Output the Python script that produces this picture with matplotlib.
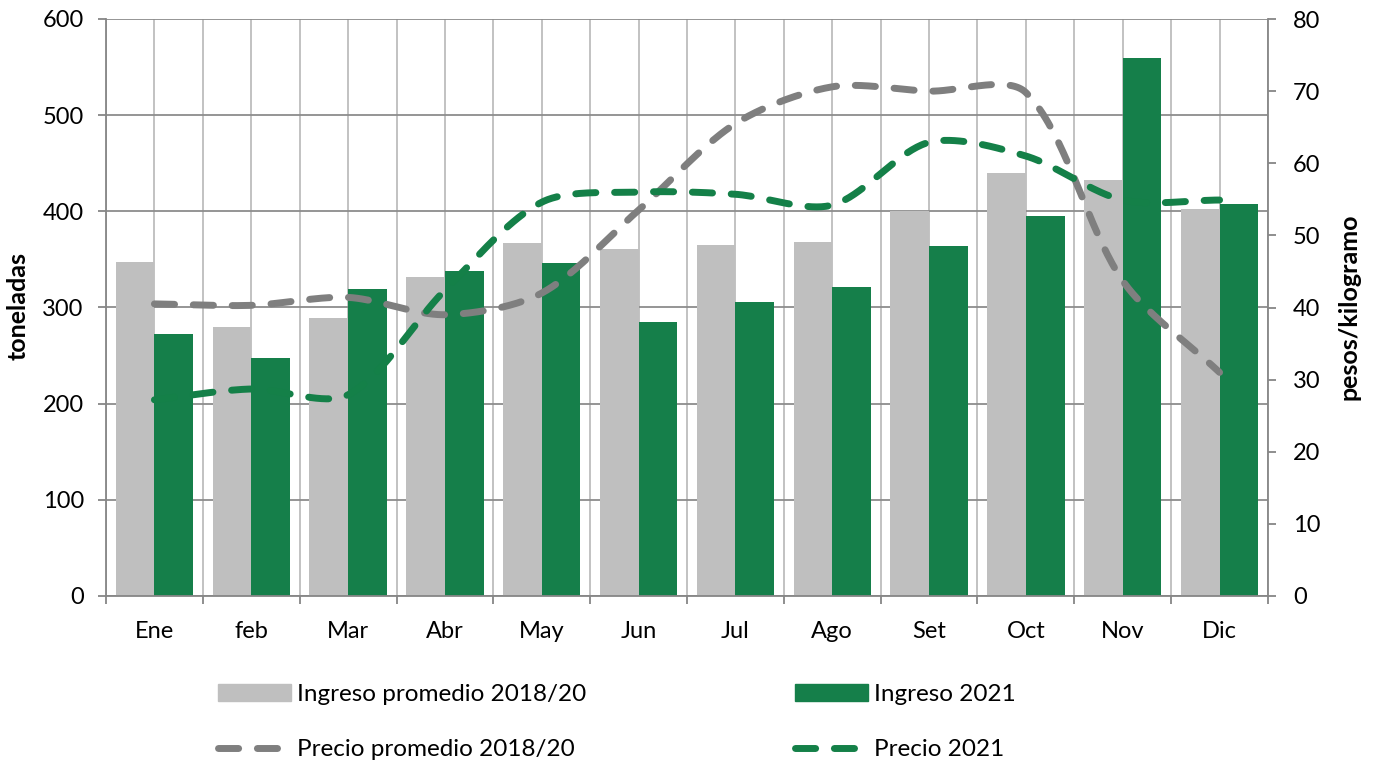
import numpy as np
import matplotlib.pyplot as plt
from matplotlib.patches import Patch
from matplotlib.lines import Line2D

plt.rcParams['font.family'] = ['Lato', 'DejaVu Sans']

meses = ["Ene", "feb", "Mar", "Abr", "May", "Jun", "Jul", "Ago", "Set", "Oct", "Nov", "Dic"]
ingreso_prom = [347, 280, 289, 332, 367, 361, 365, 368, 400, 440, 433, 402]
ingreso_2021 = [272, 248, 319, 338, 346, 285, 306, 321, 364, 395, 559, 408]
precio_prom = [40.5, 40.3, 41.4, 39.0, 42.0, 53.5, 65.5, 70.6, 70.0, 69.8, 43.7, 31.0]
precio_2021 = [27.2, 28.7, 27.9, 42.4, 54.6, 56.0, 55.7, 54.2, 62.9, 61.0, 54.9, 54.9]

GRIS_BAR = "#bfbfbf"
VERDE_BAR = "#157f4a"
GRIS_LIN = "#7f7f7f"
VERDE_LIN = "#148048"
EJE = "#868686"


# Excel-like smoothed line: bezier through the points, control points
# weighted by the length of neighbouring segments (in screen proportions)
def suavizar(x, y, sy=7.21 / 96.8, t=0.3, n=40):
    p = np.column_stack([np.asarray(x, float), np.asarray(y, float) * sy])
    m = len(p)
    d = np.hypot(*np.diff(p, axis=0).T)
    tang = np.zeros_like(p)
    tang[0] = p[1] - p[0]
    tang[-1] = p[-1] - p[-2]
    tang[1:-1] = p[2:] - p[:-2]
    s = np.linspace(0, 1, n)[:, None]
    out = []
    for i in range(m - 1):
        w1 = 1.0 if i == 0 else d[i] / (d[i - 1] + d[i])
        w2 = 1.0 if i == m - 2 else d[i] / (d[i] + d[i + 1])
        c1 = p[i] + t * tang[i] * w1
        c2 = p[i + 1] - t * tang[i + 1] * w2
        out.append((1 - s) ** 3 * p[i] + 3 * (1 - s) ** 2 * s * c1
                   + 3 * (1 - s) * s ** 2 * c2 + s ** 3 * p[i + 1])
    out = np.vstack(out)
    return out[:, 0], out[:, 1] / sy


fig = plt.figure(figsize=(13.73, 7.63), dpi=100)
ax = fig.add_axes([106 / 1373, 1 - 596 / 763, (1268 - 106) / 1373, (596 - 19) / 763])
x = np.arange(len(meses))
w = 0.4

ax.bar(x - w / 2, ingreso_prom, w, color=GRIS_BAR, zorder=2)
ax.bar(x + w / 2, ingreso_2021, w, color=VERDE_BAR, zorder=2)
ax.set_xlim(-0.5, 11.5)
ax.set_ylim(0, 600)
ax.set_yticks(range(0, 601, 100))
ax.set_xticks(np.arange(-0.5, 12, 1))
ax.set_xticklabels([])
ax.set_xticks(x, minor=True)
ax.set_xticklabels(meses, minor=True)
ax.tick_params(axis='x', which='major', length=6, width=1.3, color=EJE)
ax.tick_params(axis='x', which='minor', length=0, pad=18, labelsize=17)
ax.tick_params(axis='y', length=6, width=1.3, color=EJE, pad=10, labelsize=17)
ax.grid(axis='y', color="#8c8c8c", lw=1.3, zorder=0)
ax.grid(axis='x', which='both', color="#bdbdbd", lw=1.3, zorder=0)
ax.set_axisbelow(True)
for s in ['left', 'bottom']:
    ax.spines[s].set_color(EJE)
    ax.spines[s].set_linewidth(1.3)
ax.spines['top'].set_visible(False)
ax.spines['right'].set_visible(False)

ax2 = ax.twinx()
estilo = (0, (2.9, 2.7))
xs, ys = suavizar(x, precio_prom)
ax2.plot(xs, ys, color=GRIS_LIN, lw=5, ls=estilo, dash_capstyle='round', zorder=3)
xs, ys = suavizar(x, precio_2021)
ax2.plot(xs, ys, color=VERDE_LIN, lw=5, ls=estilo, dash_capstyle='round', zorder=3)
ax2.set_ylim(0, 80)
ax2.set_yticks(range(0, 81, 10))
ax2.tick_params(axis='y', length=6, width=1.3, color=EJE, pad=12, labelsize=17)
for s in ['left', 'bottom', 'top']:
    ax2.spines[s].set_visible(False)
ax2.spines['right'].set_color(EJE)
ax2.spines['right'].set_linewidth(1.3)

fig.text(18 / 1373, 1 - 306 / 763, "toneladas", rotation=90, fontsize=18,
         fontweight='bold', ha='center', va='center')
fig.text(1349 / 1373, 1 - 307 / 763, "pesos/kilogramo", rotation=90, fontsize=18,
         fontweight='bold', ha='center', va='center')

linea = dict(lw=5, ls=estilo, dash_capstyle='round')
leg_kw = dict(frameon=False, fontsize=17.5, handlelength=3.0, handleheight=0.65,
              handletextpad=0.25, labelspacing=1.4, borderpad=0, borderaxespad=0,
              loc='upper left')
l1 = fig.legend([Patch(color=GRIS_BAR), Line2D([], [], color=GRIS_LIN, **linea)],
                ["Ingreso promedio 2018/20", "Precio promedio 2018/20"],
                bbox_to_anchor=(218 / 1373, 1 - 684 / 763), **leg_kw)
l2 = fig.legend([Patch(color=VERDE_BAR), Line2D([], [], color=VERDE_LIN, **linea)],
                ["Ingreso 2021", "Precio 2021"],
                bbox_to_anchor=(795 / 1373, 1 - 684 / 763), **leg_kw)

fig.savefig("out.png", dpi=100)
